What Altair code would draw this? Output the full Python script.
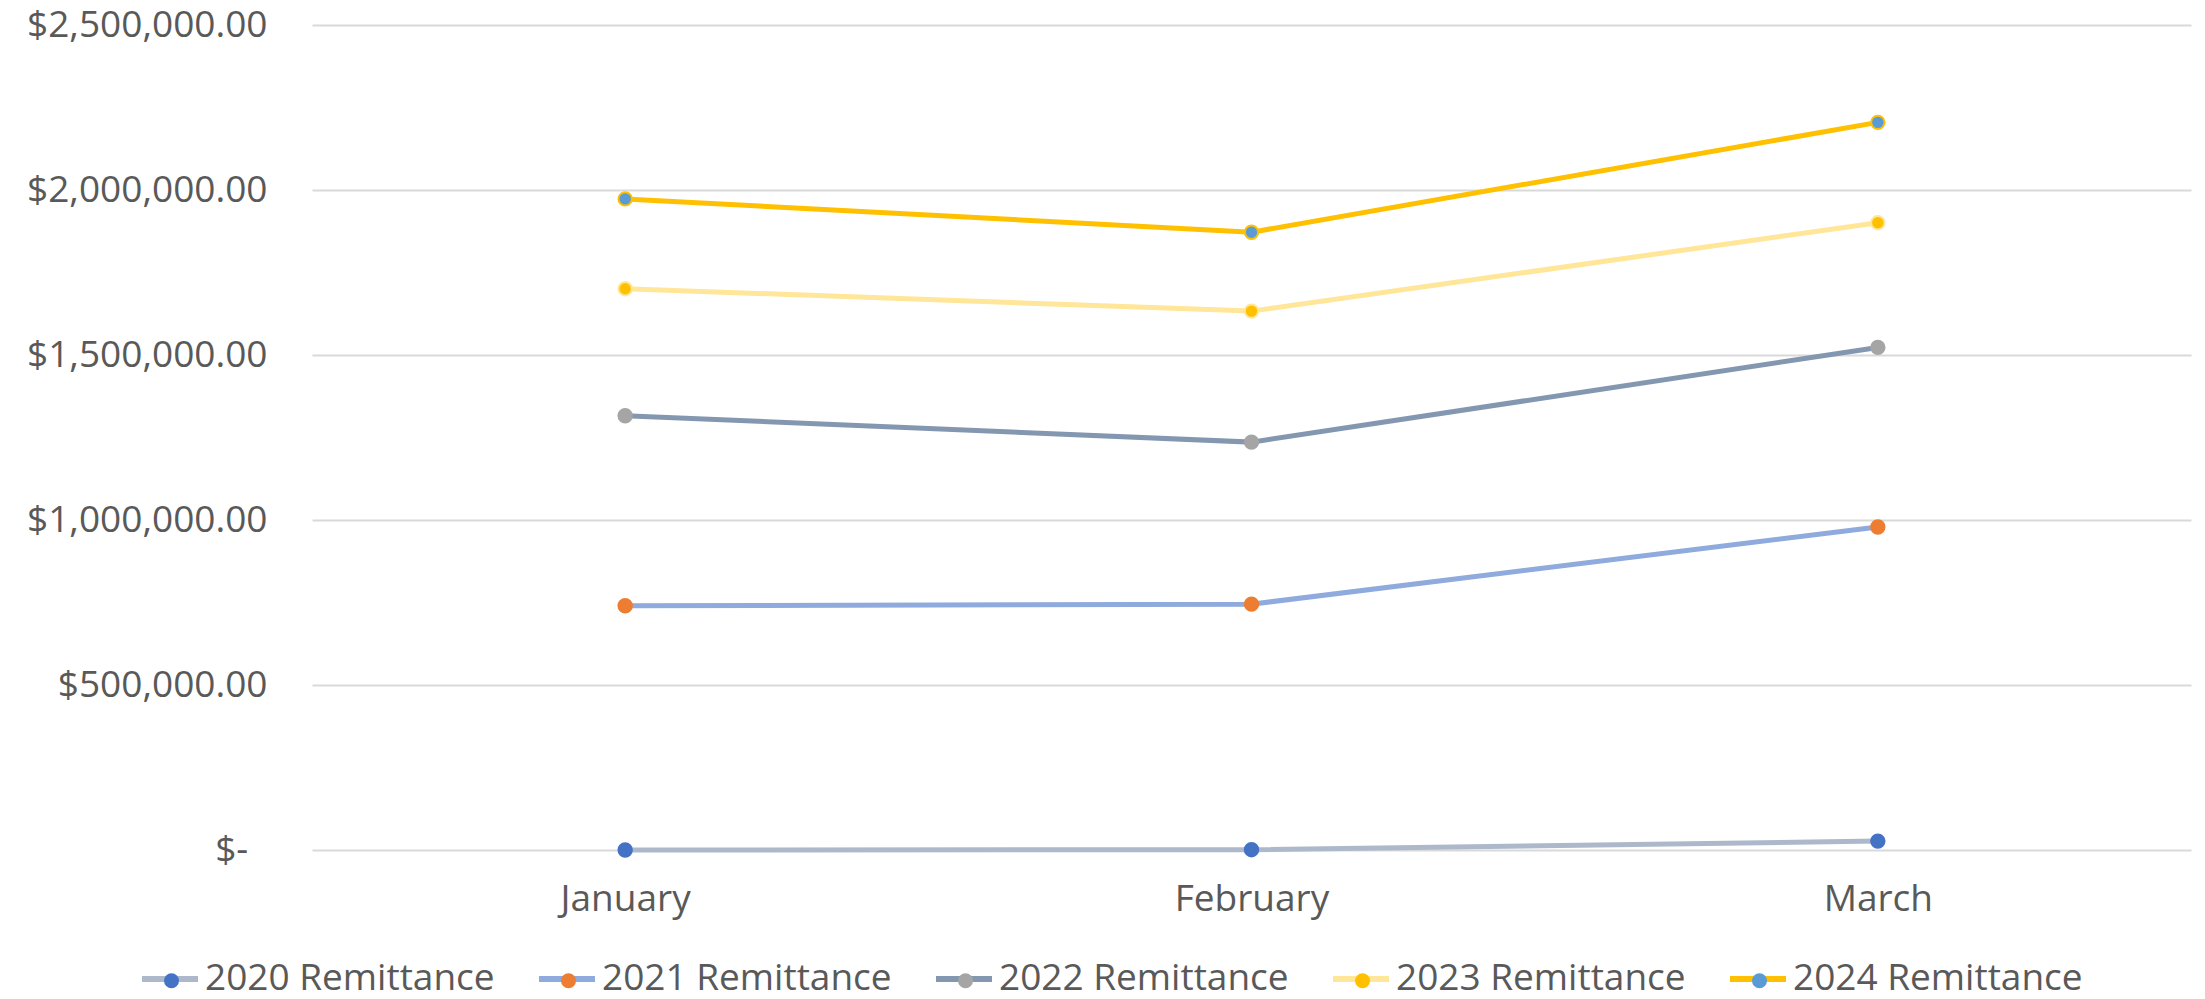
import altair as alt
import pandas as pd

months = ["January", "February", "March"]
series_names = ["2020 Remittance", "2021 Remittance", "2022 Remittance",
                "2023 Remittance", "2024 Remittance"]
v2020 = [0, 1000, 27000]
v2021 = [740000, 745000, 979000]
v2022 = [1316000, 1236000, 1523000]
v2023 = [1701000, 1633000, 1901000]
v2024 = [1973000, 1872000, 2205000]
line_colors = ["#ADB9CA", "#8FAADC", "#8497B0", "#FFE699", "#FFC000"]
marker_fills = ["#4472C4", "#ED7D31", "#A5A5A5", "#FFC000", "#5B9BD5"]
marker_strokes = ["#4472C4", "#ED7D31", "#A5A5A5", "#FFE699", "#FFC000"]
y_ticks = [0, 500000, 1000000, 1500000, 2000000, 2500000]

all_values = [v2020, v2021, v2022, v2023, v2024]
rows = []
for s, vals in zip(series_names, all_values):
    for i, (m, v) in enumerate(zip(months, vals)):
        rows.append({"series": s, "series_m": s, "series_s": s, "month": m, "mi": i, "value": v})
df = pd.DataFrame(rows)

FONT = "Open Sans"
FS = 37
GREY = "#595959"
GRID = "#D9D9D9"

x_enc = alt.X("month:N", sort=months,
              scale=alt.Scale(type="point", padding=0.5),
              axis=alt.Axis(title=None, labelAngle=0, labelPadding=31, grid=False,
                            domain=False, ticks=False,
                            labelFont=FONT, labelFontSize=FS, labelColor=GREY))
y_enc = alt.Y("value:Q", scale=alt.Scale(domain=[0, 2500000], nice=False),
              axis=alt.Axis(title=None, values=y_ticks, labelPadding=45, labelLimit=500,
                            domain=False, ticks=False, grid=True,
                            gridColor=GRID, gridWidth=2,
                            labelFont=FONT, labelFontSize=FS, labelColor=GREY,
                            labelExpr="datum.value == 0 ? '$-\u00a0\u00a0\u200b' : '$' + format(datum.value, ',.2f')"))

base = alt.Chart(df)

LX, LY = -173, 923
CP1 = 32
lines = base.mark_line(strokeWidth=5).encode(
    x=x_enc, y=y_enc,
    color=alt.Color("series:N",
                    scale=alt.Scale(domain=series_names, range=line_colors),
                    legend=alt.Legend(title=None, orient="none", legendX=LX, legendY=LY,
                                      direction="horizontal", columns=5,
                                      symbolType="stroke", symbolSize=3136, symbolStrokeWidth=6,
                                      labelFont=FONT, labelFontSize=FS, labelColor=GREY,
                                      labelOffset=4, columnPadding=CP1, labelLimit=1000)),
    order=alt.Order("mi:Q"),
)

pt_legend = alt.Legend(title=None, orient="none", legendX=LX + 14, legendY=LY + 14,
                       direction="horizontal", columns=5,
                       symbolType="circle", symbolSize=225, symbolStrokeWidth=0,
                       symbolOpacity=1,
                       labelFont=FONT, labelFontSize=FS, labelColor=GREY, labelOpacity=0,
                       labelOffset=4, columnPadding=CP1 + 34, labelLimit=1000)

points = base.mark_point(filled=True, size=180, strokeWidth=2, opacity=1).encode(
    x=x_enc, y=y_enc,
    fill=alt.Fill("series_m:N", sort=series_names,
                  scale=alt.Scale(range=marker_fills),
                  legend=pt_legend),
    stroke=alt.Stroke("series_s:N", sort=series_names,
                      scale=alt.Scale(range=marker_strokes),
                      legend=None),
)

chart = alt.layer(lines, points).properties(
    width=1879, height=825,
    autosize=alt.AutoSizeParams(type="none"),
    padding={"left": 304, "top": 17, "right": 4, "bottom": 140},
    view=alt.ViewBackground(strokeOpacity=0, strokeWidth=0),
).configure_view(strokeWidth=0, strokeOpacity=0).configure_axis(
    domain=False, ticks=False, gridColor=GRID, gridWidth=2
).configure(font=FONT)

chart.save("out.html", embed_options={"renderer": "svg", "actions": False})
